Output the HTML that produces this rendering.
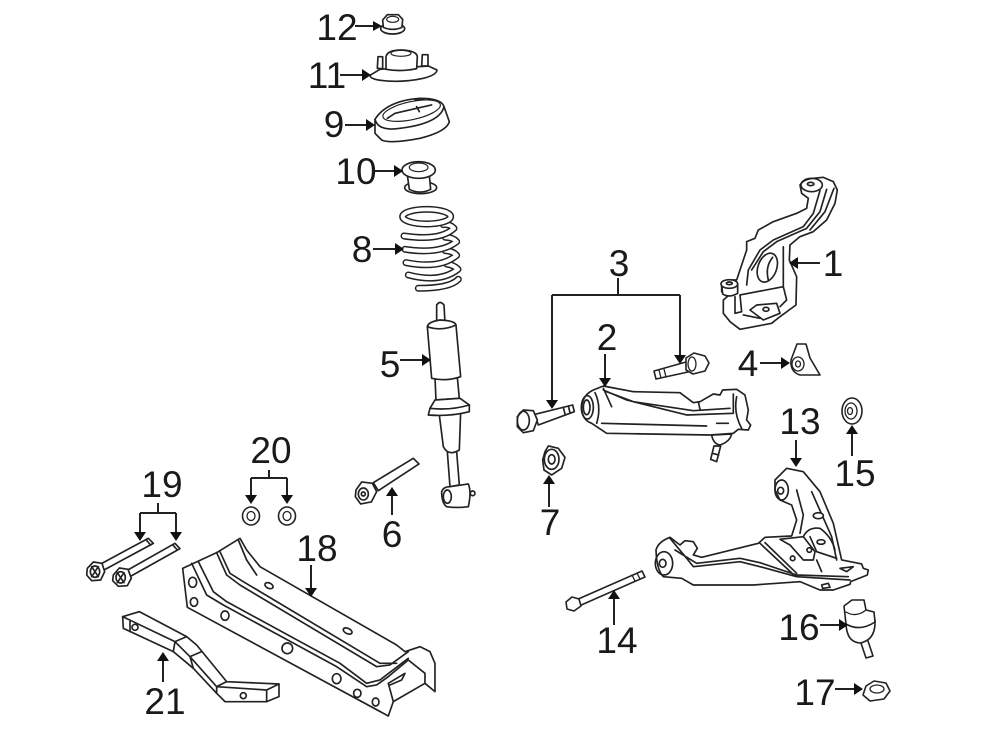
<!DOCTYPE html>
<html><head><meta charset="utf-8"><style>
html,body{margin:0;padding:0;background:#fff}
svg{display:block;filter:blur(.35px)}
text{font-family:"Liberation Sans",sans-serif;font-size:37px;fill:#1a1a1a;text-anchor:middle}
.a{stroke:#222;stroke-width:2;fill:none}
.h{fill:#111;stroke:none}
.z{fill:#fff;stroke:#222;stroke-width:5;stroke-linejoin:round;stroke-linecap:round}
.z .n,.n{fill:none}
.t{fill:none;stroke:#222;stroke-width:3.5;stroke-linecap:round;stroke-linejoin:round}
.o{fill:#fff;stroke:#222;stroke-width:1.6;stroke-linecap:round;stroke-linejoin:round}
.l{fill:none;stroke:#222;stroke-width:1.3;stroke-linecap:round;stroke-linejoin:round}
</style></head><body>
<svg width="1000" height="735" viewBox="0 0 1000 735" xmlns="http://www.w3.org/2000/svg">
<rect width="1000" height="735" fill="#fff"/>

<!-- top stack -->
<g transform="translate(300,0) scale(.3333)" class="z">
<!-- 12 -->
<ellipse cx="278" cy="86" rx="36" ry="16"/>
<path d="M248,60 L262,44 L295,44 L308,58 L306,82 Q278,94 250,82Z"/>
<ellipse cx="278" cy="58" rx="18" ry="9" class="t"/>
<!-- 11 -->
<path d="M210,226 L240,208 L385,198 L411,210 Q410,225 370,235 Q300,250 235,240 Q210,235 210,226Z"/>
<path d="M232,205 L234,170 L248,170 L248,206Z"/><path d="M365,198 L367,164 L384,164 L384,198Z"/>
<path d="M258,208 L258,170 Q262,150 305,150 Q350,152 352,170 L350,206 Q300,216 258,208Z"/>
<ellipse cx="303" cy="160" rx="30" ry="9" class="t"/>
<!-- 9 -->
<path d="M225,358 Q260,302 360,295 Q425,295 432,320 L448,365 Q440,395 360,415 Q270,432 245,420 L225,400Z"/>
<path d="M225,358 Q235,395 300,385 Q420,370 432,320" class="n"/>
<ellipse cx="335" cy="332" rx="88" ry="27" transform="rotate(-12 335 332)" class="t"/>
<path d="M262,355 L285,340 L350,325 L395,315 M345,300 L372,298 M350,320 L358,335" class="n"/>
<!-- 10 -->
<ellipse cx="362" cy="563" rx="48" ry="18"/>
<path d="M322,525 L328,568 Q360,585 392,568 L388,525Z"/>
<ellipse cx="356" cy="510" rx="50" ry="25"/>
<ellipse cx="356" cy="502" rx="28" ry="13" class="t"/>
<!-- 8 spring -->
<g stroke="#222" fill="none" stroke-linecap="round">
<path d="M355,865 Q450,865 475,838" stroke-width="21"/><path d="M355,865 Q450,865 475,838" stroke="#fff" stroke-width="12"/>
<path d="M325,825 Q420,850 474,808 Q462,795 440,792" stroke-width="21"/><path d="M325,825 Q420,850 474,808 Q462,795 440,792" stroke="#fff" stroke-width="12"/>
<path d="M318,788 Q420,808 470,766 Q458,753 436,752" stroke-width="21"/><path d="M318,788 Q420,808 470,766 Q458,753 436,752" stroke="#fff" stroke-width="12"/>
<path d="M315,748 Q420,764 470,725 Q458,712 436,712" stroke-width="21"/><path d="M315,748 Q420,764 470,725 Q458,712 436,712" stroke="#fff" stroke-width="12"/>
<path d="M312,708 Q420,724 462,685 Q450,672 430,674" stroke-width="21"/><path d="M312,708 Q420,724 462,685 Q450,672 430,674" stroke="#fff" stroke-width="12"/>
<ellipse cx="380" cy="650" rx="72" ry="22" stroke-width="21"/><ellipse cx="380" cy="650" rx="72" ry="22" stroke="#fff" stroke-width="12"/>
</g>
</g>

<!-- knuckle 1 -->
<g transform="translate(640,170) scale(.3333)" class="z">
<path d="M480,45 Q490,28 520,25 L550,22 L580,35 L592,60 L585,100 L560,150 L520,185 L480,200 L450,225 L448,270 L470,320 L468,405 L420,440 L395,460 L300,478 L270,455 L250,430 L250,390 L262,380 L245,365 L245,340 L265,330 L290,330 L320,240 L320,215 L345,205 L355,180 L400,155 L470,130 L500,115 L505,85 L485,70Z"/>
<ellipse cx="515" cy="45" rx="32" ry="20" class="n"/><ellipse cx="512" cy="42" rx="10" ry="5" class="n"/>
<path class="n" d="M540,62 L520,130 L490,170 L400,210 L360,240 L325,300 L320,345"/>
<path class="n" d="M560,58 L540,125 L500,175 L410,215 L370,245 L335,300"/>
<path class="n" d="M582,55 L555,125 L510,180"/>
<ellipse cx="382" cy="293" rx="28" ry="45" transform="rotate(20 382 293)"/>
<path class="n" d="M398,262 Q375,290 385,330"/>
<path class="n" d="M300,375 L430,350 L440,390 L420,410 M430,230 L430,350 M285,380 L285,430 L305,425 L300,375"/>
<path d="M330,420 L350,405 L410,400 L420,430 L370,450Z"/><ellipse cx="378" cy="418" rx="9" ry="6"/>
<path class="n" d="M310,435 L360,445"/>
<path d="M245,345 L248,372 Q268,385 293,370 L293,342"/>
<ellipse cx="268" cy="342" rx="25" ry="13"/><ellipse cx="268" cy="340" rx="9" ry="4"/>
</g>

<!-- 4 -->
<path class="o" d="M791,360 L797,344 L806,344 L810,358 L820,375 L800,375 Q790,372 791,360Z"/>
<ellipse cx="798" cy="364" rx="6" ry="7" class="l"/><ellipse cx="798" cy="364" rx="2.5" ry="3" class="l"/>

<!-- bolt top of 3 -->
<path class="o" d="M654,371 L686,362 L688,372 L656,379Z"/>
<path class="l" d="M659,370 L661,378 M664,369 L666,377"/>
<path class="o" d="M686,358 L694,353 L705,356 L709,363 L705,371 L693,374 L686,370Z"/>
<ellipse cx="692" cy="364" rx="4" ry="7" class="l"/>

<!-- upper arm 2, bolt, 7 -->
<g transform="translate(500,370) scale(.3333)" class="z">
<path d="M635,195 Q640,222 660,225 Q690,215 695,192Z"/>
<path d="M642,228 L632,268 L650,275 L662,228Z"/><path class="n" d="M637,250 L656,255"/>
<path d="M245,110 Q248,75 280,60 L310,48 L400,65 L540,68 L580,98 L600,95 L640,72 L660,75 L668,60 L710,58 L735,75 L745,120 L740,150 L752,165 L745,180 L715,178 L700,190 L630,195 L320,190 L275,160 Q245,150 245,110Z"/>
<ellipse cx="262" cy="112" rx="18" ry="35" class="n"/><ellipse cx="260" cy="112" rx="10" ry="22" class="n"/>
<path class="n" d="M285,68 Q305,110 290,160 M310,55 L335,110 M310,60 L380,90 L560,135 L700,130 L700,72 M320,65 L400,95 L580,122 L690,115 M305,160 L620,168 M650,160 L685,160 M710,80 Q700,130 725,175 M595,95 L600,118"/>
<!-- bolt -->
<path d="M105,133 L218,105 L223,125 L115,165Z"/>
<path class="n" d="M190,112 L195,132 M205,108 L210,128"/>
<path d="M52,140 L70,120 L100,122 L112,150 L100,182 L70,188 L52,170Z"/>
<ellipse cx="70" cy="152" rx="18" ry="28" class="n"/>
<!-- 7 -->
<path d="M135,245 L145,228 L175,235 L195,262 L185,295 L155,315 L132,300 L128,270Z"/>
<ellipse cx="155" cy="268" rx="22" ry="30" class="n"/><ellipse cx="155" cy="268" rx="10" ry="14" class="n"/>
</g>

<!-- lower arm 13 -->
<g transform="translate(640,450) scale(.3333)" class="z">
<path d="M48,300 Q55,275 90,262 L120,285 L135,272 L160,275 L172,295 L160,315 L185,322 L355,280 L375,262 L455,258 L470,210 L455,165 L420,150 L405,120 L405,90 L440,55 L490,65 L540,125 L580,220 L605,330 L665,342 L670,355 L685,360 L682,375 L632,395 L630,403 L580,420 L540,420 L480,395 L340,405 L160,405 L125,385 L70,380 Q50,360 48,300Z"/>
<ellipse cx="72" cy="340" rx="26" ry="35" class="n"/><ellipse cx="68" cy="340" rx="10" ry="12" class="n"/>
<ellipse cx="425" cy="120" rx="20" ry="30" class="n"/><ellipse cx="422" cy="122" rx="9" ry="10" class="n"/>
<path class="n" d="M90,265 L140,325 L160,350 L300,335 L360,350 L470,380 L630,390 M105,300 L170,340 L300,325 L360,338 L470,375 L625,380 M360,280 L465,378 M375,278 L470,370 M470,120 L490,195 L480,250 M515,125 L575,260 L590,330"/>
<path d="M420,268 L490,260 L525,305 L520,330 L490,330 L450,285Z"/>
<circle cx="458" cy="325" r="7"/><circle cx="508" cy="300" r="7"/>
<ellipse cx="535" cy="197" rx="15" ry="9"/><ellipse cx="543" cy="276" rx="12" ry="7"/>
<path class="n" d="M490,260 Q505,230 540,235 Q575,260 585,300 M510,260 L530,305 L590,325 M530,330 L545,365 M600,355 L640,350 L620,365Z M545,405 L565,400 L570,412 L548,415Z"/>
</g>

<!-- strut 5 & bolt 6 -->
<g transform="translate(340,290) scale(.3333)" class="z">
<path d="M290,98 L290,45 Q300,30 312,45 L315,98Z"/>
<path d="M322,485 L330,590 L358,585 L350,485Z"/>
<path d="M298,375 L310,470 Q325,500 358,480 L362,365Z"/>
<path d="M285,262 L288,330 L358,325 L352,262Z"/>
<path d="M265,375 L270,355 L285,330 L360,325 L388,345 L388,365 Q330,380 265,375Z"/>
<path class="n" d="M270,355 Q330,362 388,345"/>
<path d="M262,110 Q265,95 300,90 Q345,92 348,105 L362,260 Q320,275 275,265Z"/>
<path class="n" d="M262,110 Q305,125 348,105"/>
<circle cx="398" cy="610" r="7"/>
<path d="M305,605 Q310,590 330,590 L385,582 Q395,605 385,650 Q350,655 320,650 Q305,640 305,605Z"/>
<ellipse cx="322" cy="620" rx="12" ry="20" class="n"/>
<path d="M100,578 L220,505 L237,522 L115,602Z"/>
<path d="M48,600 L65,576 L97,580 L110,605 L94,636 L62,642 L46,620Z"/>
<ellipse cx="70" cy="612" rx="15" ry="18" class="n"/>
<circle cx="70" cy="612" r="6" class="n"/>
</g>

<!-- 18, 21, 19 bolts -->
<g transform="translate(80,520) scale(.3333)" class="z">
<path d="M308,145 L410,98 L480,55 L500,90 L540,140 L950,375 L975,395 L1020,380 L1050,395 L1065,430 L1065,515 L1035,490 L940,545 L925,588 L322,262Z"/>
<path class="n" d="M335,130 L380,225 L430,255 L770,440 L860,500 L890,495 L925,470 L985,420 L1035,460 L1035,490"/>
<path class="n" d="M355,125 L400,215 L440,245 L780,430 L860,490 L900,480 L985,415"/>
<path class="n" d="M410,98 L440,165 L480,195 L890,440 L930,435 L985,395"/>
<path class="n" d="M420,95 L450,160 L490,185 L900,430 L950,430"/>
<path class="n" d="M475,60 L500,120 L530,165 M925,490 L975,460 L965,480 L930,495 M925,490 L940,545"/>
<ellipse cx="338" cy="187" rx="12" ry="15"/><ellipse cx="342" cy="246" rx="11" ry="13"/>
<ellipse cx="435" cy="287" rx="12" ry="14"/><circle cx="622" cy="385" r="16"/>
<ellipse cx="770" cy="476" rx="13" ry="15"/><ellipse cx="832" cy="520" rx="11" ry="12"/><ellipse cx="887" cy="546" rx="10" ry="12"/>
<ellipse cx="567" cy="197" rx="13" ry="8" transform="rotate(25 567 197)"/><ellipse cx="803" cy="333" rx="14" ry="8" transform="rotate(25 803 333)"/>
<!-- 21 -->
<path d="M128,290 L178,275 L320,350 L350,375 L440,485 L597,492 L597,530 L560,545 L435,545 L410,520 L340,445 L280,395 L130,325Z"/>
<path class="n" d="M128,290 L285,365 L320,350 M285,365 L280,395 M285,365 L330,410 L365,395 M330,410 L340,445 M330,410 L410,500 L440,485 M410,500 L410,520 M410,500 L560,510 L597,492 M560,510 L560,545 M150,300 L150,335"/>
<circle cx="165" cy="322" r="9"/><circle cx="490" cy="527" r="9"/>
<!-- 19 bolts -->
<path d="M60,133 L205,55 L220,70 L72,150Z"/>
<path class="n" d="M198,59 L212,75"/>
<path d="M22,145 L40,126 L66,130 L74,155 L62,180 L35,182 L20,165Z"/><ellipse cx="45" cy="155" rx="14" ry="17" class="n"/><path class="n" d="M35,140 L55,170 M55,140 L35,170"/>
<path d="M140,152 L285,70 L300,86 L150,170Z"/>
<path class="n" d="M278,74 L292,90"/>
<path d="M100,165 L118,144 L144,148 L154,175 L142,197 L115,199 L98,182Z"/><ellipse cx="122" cy="172" rx="14" ry="17" class="n"/><path class="n" d="M112,158 L132,188 M132,158 L112,188"/>
</g>

<!-- washers 20 -->
<ellipse cx="251" cy="516" rx="8.5" ry="9" class="o"/><ellipse cx="251" cy="516" rx="4" ry="4.5" class="l"/>
<ellipse cx="287" cy="516" rx="8.5" ry="9" class="o"/><ellipse cx="287" cy="516" rx="4" ry="4.5" class="l"/>

<!-- 14 bolt -->
<path class="o" d="M576,600 L642,571 L645,577 L579,606Z"/>
<path class="l" d="M632,575 L635,581 M637,573 L640,579"/>
<path class="o" d="M566,602 L572,597 L579,599 L581,606 L574,611 L567,609Z"/>

<!-- 15 washer -->
<ellipse cx="852" cy="411" rx="10" ry="13" class="o"/><ellipse cx="851" cy="411" rx="6" ry="8" class="l"/><ellipse cx="850" cy="411" rx="2.5" ry="3.5" class="l"/>

<!-- 16 ball joint -->
<path class="o" d="M860,640 L866,658 L873,656 L867,638"/>
<path class="o" d="M846,622 Q846,642 860,643 Q876,640 875,620Z"/>
<path class="o" d="M844,606 L852,600 L864,600 L866,610 L874,612 L875,622 Q860,632 846,624Z"/>
<path class="l" d="M846,612 Q856,618 866,610"/>

<!-- 17 nut -->
<path class="o" d="M866,686 L874,681 L886,683 L890,691 L884,699 L870,701 L863,695Z"/>
<ellipse cx="877" cy="689" rx="7" ry="4" class="l"/>

<!-- leaders -->
<g class="a">
<path d="M355,26H376M340,75H365M345,125H369M375,171H397M373,249H398M400,360H425M820,263H795M760,363H784"/>
<path d="M552,295H680M618,278V295M552,295V403M680,295V358"/>
<path d="M605,354V381M549,507V480M392,515V492M852,456V430M796,440V461M614,625V595M820,625H842M835,689H857M311,565V591M163,682V657"/>
<path d="M251,478H287M269,470V478M251,478V498M287,478V498"/>
<path d="M140,513H176M158,503V513M140,513V535M176,513V535"/>
</g>
<g class="h">
<path d="M382,26l-9,-5v10z"/><path d="M371,75l-9,-6v12z"/><path d="M375,125l-9,-6v12z"/><path d="M403,171l-9,-6v12z"/><path d="M404,249l-9,-6v12z"/><path d="M431,360l-9,-6v12z"/>
<path d="M789,263l9,-6v12z"/><path d="M790,363l-9,-6v12z"/>
<path d="M552,409l-6,-9h12z"/><path d="M680,364l-6,-9h12z"/><path d="M605,387l-6,-9h12z"/>
<path d="M549,475l-6,9h12z"/><path d="M392,487l-6,9h12z"/><path d="M852,425l-6,9h12z"/>
<path d="M796,467l-6,-9h12z"/><path d="M614,590l-6,9h12z"/><path d="M848,625l-9,-6v12z"/><path d="M863,689l-9,-6v12z"/>
<path d="M311,597l-6,-9h12z"/><path d="M163,652l-6,9h12z"/>
<path d="M251,504l-6,-9h12z"/><path d="M287,504l-6,-9h12z"/><path d="M140,541l-6,-9h12z"/><path d="M176,541l-6,-9h12z"/>
</g>

<!-- labels -->
<text x="337" y="40">12</text>
<text x="327" y="88">11</text>
<text x="334" y="137">9</text>
<text x="356" y="184">10</text>
<text x="362" y="262">8</text>
<text x="390" y="377">5</text>
<text x="619" y="276">3</text>
<text x="607" y="350">2</text>
<text x="833" y="276">1</text>
<text x="748" y="376">4</text>
<text x="800" y="434">13</text>
<text x="855" y="486">15</text>
<text x="271" y="463">20</text>
<text x="162" y="497">19</text>
<text x="317" y="561">18</text>
<text x="392" y="547">6</text>
<text x="550" y="535">7</text>
<text x="617" y="653">14</text>
<text x="799" y="640">16</text>
<text x="815" y="705">17</text>
<text x="165" y="714">21</text>
</svg>
</body></html>
